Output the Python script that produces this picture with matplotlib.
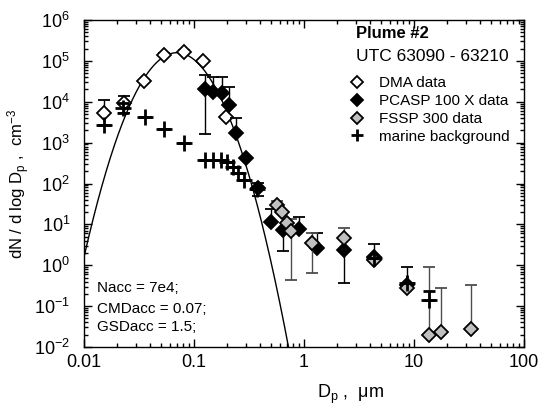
import numpy as np
import matplotlib
matplotlib.use('Agg')
import matplotlib.pyplot as plt
from matplotlib.lines import Line2D
from matplotlib.ticker import FixedLocator, FuncFormatter, LogLocator, NullFormatter

plt.rcParams['font.family'] = ['Liberation Sans', 'DejaVu Sans']
plt.rcParams['mathtext.fontset'] = 'custom'
plt.rcParams['mathtext.rm'] = 'Liberation Sans'
plt.rcParams['mathtext.it'] = 'Liberation Sans:italic'
plt.rcParams['mathtext.bf'] = 'Liberation Sans:bold'

# ---- data ----
dma_d = [0.0152, 0.0229, 0.0353, 0.0534, 0.0811, 0.1216, 0.1955]
dma_n = [5240, 9350, 32300, 139000, 168000, 99500, 4180]
dma_hi = [11070, 13870, 32300, 152000, 182000, 99500, 4180]
dma_lo = [5240, 5240, 32300, 128000, 155000, 99500, 4180]

pcasp_d = [0.1259, 0.148, 0.1787, 0.2095, 0.241, 0.297, 0.378, 0.498, 0.649, 0.906, 1.30, 2.32, 4.33, 8.59]
pcasp_n = [20200, 17700, 16100, 8360, 1760, 416, 75.9, 11.2, 7.35, 7.64, 2.66, 2.38, 1.60, 0.332]
pcasp_hi = [45200, 39700, 39700, 23400, 3950, 416, 105, 23.6, 7.35, 15.5, 6.3, 2.38, 3.28, 0.929]
pcasp_lo = [1600, 17700, 16100, 8360, 1760, 416, 49.8, 11.2, 2.28, 7.64, 2.66, 0.365, 1.60, 0.332]

fssp_d = [0.565, 0.635, 0.697, 0.757, 1.175, 2.32, 4.33, 8.59, 13.7, 17.5, 32.7]
fssp_n = [30.0, 20.6, 10.7, 7.05, 3.53, 4.60, 1.36, 0.275, 0.0199, 0.0239, 0.0274]
fssp_hi = [38.2, 20.6, 10.7, 13.4, 6.3, 8.36, 1.36, 0.275, 0.929, 0.275, 0.332]
fssp_lo = [30.0, 20.6, 10.7, 0.44, 0.664, 4.60, 1.36, 0.275, 0.0199, 0.0239, 0.0274]

mar_d = [0.0152, 0.0226, 0.0355, 0.0536, 0.0817, 0.1259, 0.148, 0.176, 0.201, 0.2275, 0.253, 0.286, 0.371, 4.33, 8.59, 13.7]
mar_n = [2710, 7040, 4180, 2130, 966, 382, 382, 382, 328, 251, 179, 122, 73.8, 1.5, 0.376, 0.143]
mar_hi = [2710, 9350, 4180, 2130, 966, 382, 382, 382, 328, 251, 179, 122, 73.8, 1.5, 0.376, 0.23]
mar_lo = [2710, 5240, 4180, 2130, 966, 382, 382, 382, 328, 251, 179, 122, 73.8, 1.5, 0.376, 0.143]

# lognormal fit parameters
Nacc, CMDacc, GSDacc = 7e4, 0.07, 1.5

xticks = [0.01, 0.1, 1, 10, 100]
xticklabels = ['0.01', '0.1', '1', '10', '100']
yexp = [-2, -1, 0, 1, 2, 3, 4, 5, 6]

fig = plt.figure(figsize=(5.39, 4.08), dpi=100)
ax = fig.add_axes([84/539, 1-347/408, 440/539, 327/408])

# fit curve
lsig = np.log10(GSDacc)
dd = np.logspace(-2, np.log10(0.8), 400)
fit = Nacc/(np.sqrt(2*np.pi)*lsig)*np.exp(-(np.log10(dd/CMDacc))**2/(2*lsig**2))
ax.plot(dd, fit, color='black', lw=1.0, zorder=2)

def err(n, lo, hi):
    n = np.array(n); return [n-np.array(lo), np.array(hi)-n]

ms = 7.6
ekw = dict(elinewidth=1.0, capsize=4, capthick=1.0)
ax.errorbar(dma_d, dma_n, yerr=err(dma_n, dma_lo, dma_hi), fmt='D', ms=ms, mfc='white',
            mec='black', mew=1.3, ecolor='black', zorder=3, **ekw)
ax.errorbar(pcasp_d, pcasp_n, yerr=err(pcasp_n, pcasp_lo, pcasp_hi), fmt='D', ms=ms, mfc='black',
            mec='black', mew=1.3, ecolor='black', zorder=4, **ekw)
ax.errorbar(fssp_d, fssp_n, yerr=err(fssp_n, fssp_lo, fssp_hi), fmt='D', ms=ms, mfc='#c0c0c0',
            mec='black', mew=1.3, ecolor='0.3', zorder=5, **ekw)
ax.errorbar(mar_d, mar_n, yerr=err(mar_n, mar_lo, mar_hi), fmt='+', ms=11, mec='black',
            mew=2.0, ecolor='black', zorder=6, **ekw)

ax.set_xscale('log')
ax.set_yscale('log')
ax.set_xlim(0.01, 100)
ax.set_ylim(1e-2, 1e6)

ax.xaxis.set_major_locator(FixedLocator(xticks))
ax.set_xticklabels(xticklabels)
ax.xaxis.set_minor_locator(LogLocator(base=10, subs=np.arange(2, 10), numticks=20))
ax.xaxis.set_minor_formatter(NullFormatter())
ax.yaxis.set_major_locator(FixedLocator([10.0**e for e in yexp]))
ax.set_yticklabels([r'$\mathregular{10^{%d}}$' % e for e in yexp])
ax.yaxis.set_minor_locator(LogLocator(base=10, subs=np.arange(2, 10), numticks=20))
ax.yaxis.set_minor_formatter(NullFormatter())

ax.tick_params(which='both', direction='in', top=True, right=True, width=1.0)
ax.tick_params(which='major', length=6)
ax.tick_params(which='minor', length=3)
ax.tick_params(axis='x', which='major', labelsize=13, pad=5)
ax.tick_params(axis='y', which='major', labelsize=13, pad=10)
for s in ax.spines.values():
    s.set_linewidth(1.0)

ax.set_xlabel('D$_{\\mathregular{p}}$ ,  \u03bcm', fontsize=13)
ax.xaxis.set_label_coords(0.605, -0.11)
ax.set_ylabel('dN / d log D$_{\\mathregular{p}}$ ,  cm$^{\\mathregular{-3}}$', fontsize=12)
ax.yaxis.set_label_coords(-0.118, 0.5)

ax.text(0.618, 0.960, 'Plume #2', transform=ax.transAxes, fontsize=12, fontweight='bold',
        ha='left', va='center')
ax.text(0.618, 0.887, 'UTC 63090 - 63210', transform=ax.transAxes, fontsize=12.5,
        ha='left', va='center')

handles = [
    Line2D([], [], marker='D', ls='none', ms=6, mfc='white', mec='black', mew=1.3),
    Line2D([], [], marker='D', ls='none', ms=6, mfc='black', mec='black', mew=1.3),
    Line2D([], [], marker='D', ls='none', ms=6, mfc='#c0c0c0', mec='black', mew=1.3),
    Line2D([], [], marker='+', ls='none', ms=9, mec='black', mew=2.0),
]
labels = ['DMA data', 'PCASP 100 X data', 'FSSP 300 data', 'marine background']
ax.legend(handles, labels, loc='upper left', bbox_to_anchor=(0.604, 0.829), frameon=False,
          fontsize=11, borderaxespad=0, borderpad=0, handlelength=1.0, handletextpad=0.9,
          labelspacing=0.26)

ax.text(0.03, 0.18, 'Nacc = 7e4;', transform=ax.transAxes, fontsize=11, ha='left', va='center')
ax.text(0.03, 0.116, 'CMDacc = 0.07;', transform=ax.transAxes, fontsize=11, ha='left', va='center')
ax.text(0.03, 0.061, 'GSDacc = 1.5;', transform=ax.transAxes, fontsize=11, ha='left', va='center')

fig.savefig('out.png', dpi=100)
